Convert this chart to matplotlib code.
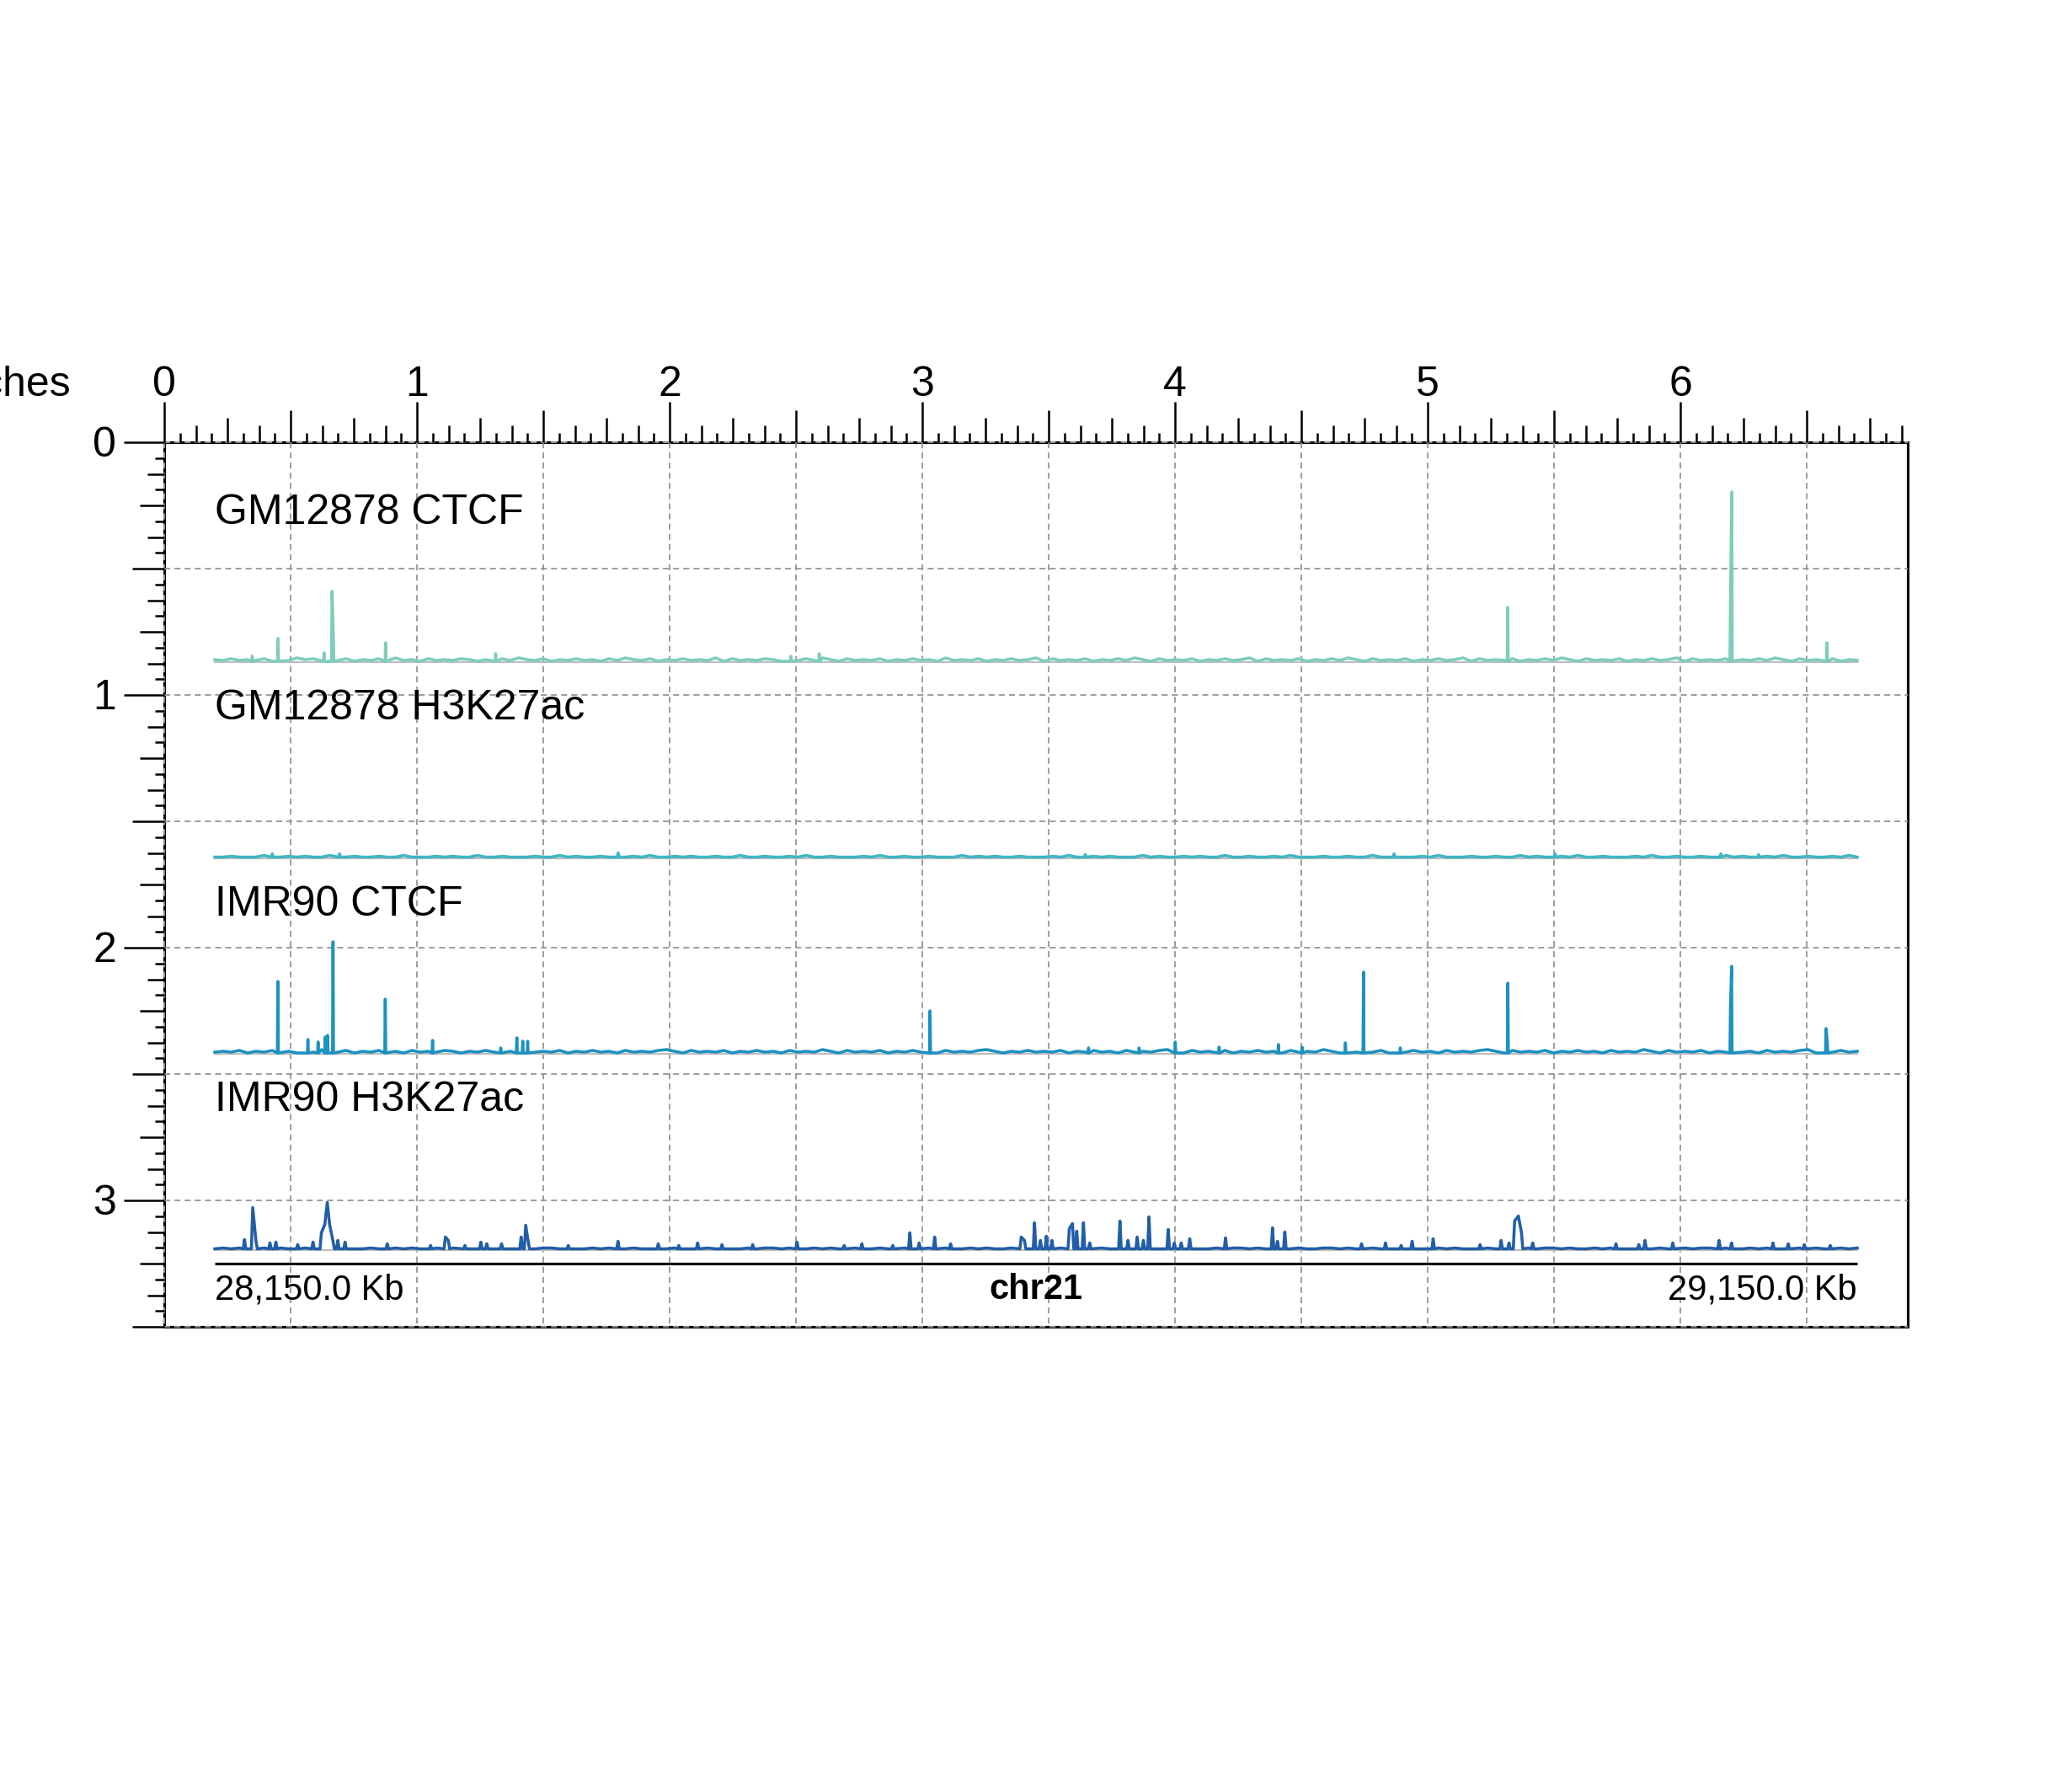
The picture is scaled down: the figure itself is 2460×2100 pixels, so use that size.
import numpy as np
import matplotlib
matplotlib.use("Agg")
import matplotlib.pyplot as plt
from matplotlib.collections import LineCollection
from matplotlib.patches import Rectangle

plt.rcParams['font.family'] = ['Liberation Sans', 'DejaVu Sans']
plt.rcParams['lines.scale_dashes'] = False

# ---------------- data ----------------
region_start = 28150.0   # Kb
region_end = 29150.0     # Kb
chrom = "chr21"
start_label = "28,150.0 Kb"
end_label = "29,150.0 Kb"

track_names = ["GM12878 CTCF", "GM12878 H3K27ac", "IMR90 CTCF", "IMR90 H3K27ac"]
track_colors = ["#7FCDBB", "#41B6C4", "#1D91C0", "#225EA8"]
signal_range = 201.0

# peaks: offsets (Kb from region start) and signal values
gm_ctcf_pos = [22.8, 38.5, 66.5, 71.4, 72.2, 104.0, 171.0, 350.8, 368.0,
               787.2, 922.8, 923.6, 981.6]
gm_ctcf_val = [6, 27, 10, 83, 30, 22, 9, 6, 9, 64, 61, 201, 22]

gm_k27_pos = [35.0, 76.0, 245.6, 530.0, 718.0, 816.0, 917.0, 940.0]
gm_k27_val = [4, 4, 5, 3, 4, 4, 4, 3]

imr_ctcf_pos = [38.4, 56.7, 62.9, 67.2, 68.7, 72.0, 103.8, 132.6, 174.1, 183.9,
                187.5, 190.5, 435.5, 532.0, 562.8, 584.8, 611.5, 647.6, 662.0,
                688.4, 699.4, 721.8, 787.3, 922.8, 923.5, 981.0, 981.8]
imr_ctcf_val = [85, 16, 13, 19, 21, 132, 64, 15, 6, 18,
                14, 14, 50, 6, 6, 13, 7, 10, 7,
                12, 96, 6, 83, 51, 103, 29, 13]

imr_k27_pos = [18.1, 23.1, 25.1, 33.6, 37.2, 50.5, 59.8, 64.9, 67.0, 68.5, 69.9,
               72.0, 74.9, 79.3, 105.0, 131.4, 140.4, 142.2, 152.3, 162.0, 165.6,
               174.6, 186.5, 189.3, 190.8, 215.2, 245.5, 270.0, 282.5, 294.0,
               308.8, 327.5, 354.5, 383.2, 394.0, 412.8, 423.2, 428.9, 438.3,
               448.0, 491.0, 493.0, 499.1, 502.7, 506.3, 509.7, 520.3, 522.2,
               524.8, 528.9, 532.7, 551.1, 556.0, 561.6, 565.4, 568.8, 580.5,
               584.2, 588.4, 593.6, 615.4, 644.0, 647.0, 651.5, 698.2, 712.8,
               722.3, 729.0, 741.8, 770.4, 783.2, 788.0, 791.4, 793.7, 795.6,
               802.4, 853.1, 867.0, 870.8, 887.7, 915.9, 923.5, 948.7, 958.0,
               967.8, 983.6]
imr_k27_val = [11, 49, 9, 7, 8, 5, 8, 19, 29, 55, 29,
               9, 10, 8, 6, 4, 14, 10, 4, 8, 6,
               6, 14, 28, 9, 4, 9, 6, 4, 7,
               5, 5, 8, 4, 6, 4, 19, 7, 14,
               6, 14, 10, 31, 10, 15, 10, 24, 30,
               21, 31, 7, 33, 10, 14, 10, 38, 23,
               7, 7, 12, 13, 25, 9, 20, 6, 7,
               4, 9, 12, 5, 10, 7, 33, 39, 19,
               7, 6, 5, 10, 7, 10, 7, 7, 6,
               5, 4]

# background noise floor, one value per 5 Kb bin
gm_ctcf_noise = ("21312130214231213021" "32412031213202131421" "30213120314213021312"
                 "14031213202131420312" "13021312041213021312" "40312130213142031213"
                 "02131240312130213142" "03121302131240312130" "21314203121302131240"
                 "31213021314203121302" "1")
gm_k27_noise = ("00100020010100200100" "10020001010020010001" "00201001000102001010"
                "01002001001020010001" "02001001000201010010" "00102001010002010010"
                "10020010010200010010" "02001001020001001002" "01001020010001020010"
                "01002010010200100102" "0")
imr_ctcf_noise = ("12130213120314213021" "31203121320213142031" "21302131203121342031"
                  "21302131203121420312" "13021312031213420213" "12130213120312134203"
                  "12130213120312142031" "21302131203121342031" "21302131203121420312"
                  "13021312031213402131" "2")
imr_k27_noise = ("01010010101100101001" "01101001011010010100" "11010010110100101001"
                 "10100101101001010011" "01001011010010100110" "10010110100101001101"
                 "00101101001010011010" "01011010010100110100" "10110100101001101001"
                 "01101001010011010010" "1")

track_peaks_pos = [gm_ctcf_pos, gm_k27_pos, imr_ctcf_pos, imr_k27_pos]
track_peaks_val = [gm_ctcf_val, gm_k27_val, imr_ctcf_val, imr_k27_val]
track_noise = [gm_ctcf_noise, gm_k27_noise, imr_ctcf_noise, imr_k27_noise]
track_halfwidth = [0.3, 0.6, 0.3, 0.8]
track_join = [1.0, 1.5, 1.0, 2.5]


def build_signal(noise, ppos, pval, hw, join, base=1.0):
    peaks = sorted(zip([region_start + p for p in ppos], pval))
    pk_x = np.array([p for p, _ in peaks])
    pts = []
    for i, (p, v) in enumerate(peaks):
        pts.append((p, v + base))
        if i == 0 or p - peaks[i - 1][0] > join:
            pts.append((p - hw, base))
        if i == len(peaks) - 1 or peaks[i + 1][0] - p > join:
            pts.append((p + hw, base))
    nx = np.linspace(region_start, region_end, len(noise))
    for x, c in zip(nx, noise):
        if len(pk_x) == 0 or np.min(np.abs(pk_x - x)) > hw + 1.5:
            pts.append((x, int(c) + base))
    pts.sort()
    xs = np.array([p[0] for p in pts])
    ys = np.array([p[1] for p in pts])
    keep = (xs >= region_start) & (xs <= region_end)
    return xs[keep], ys[keep]


# ---------------- layout (inches) ----------------
FIG_W, FIG_H = 8.2, 7.0
PX0, PY0 = 0.65, 1.75           # page origin inside the figure
PAGE_W, PAGE_H = 6.9, 3.5
TRACK_X, TRACK_W = 0.2, 6.5
TRACK_Y0, TRACK_DY, TRACK_H = 0.2, 0.775, 0.67

fig = plt.figure(figsize=(FIG_W, FIG_H), dpi=300)
fig.patch.set_facecolor('white')
page = fig.add_axes([0, 0, 1, 1])
page.set_xlim(-PX0, FIG_W - PX0)
page.set_ylim(FIG_H - PY0, -PY0)
page.axis('off')

# page border
page.add_patch(Rectangle((0, 0), PAGE_W, PAGE_H, fill=False, ec='black', lw=0.75, zorder=2))

# guides grid
gkw = dict(color='#999999', lw=0.45, dashes=(1.7, 1.2), zorder=3)
for gx in np.arange(0, PAGE_W + 1e-9, 0.5):
    page.plot([gx, gx], [0, PAGE_H], **gkw)
for gy in np.arange(0, PAGE_H + 1e-9, 0.5):
    page.plot([0, PAGE_W], [gy, gy], **gkw)


def tick_len(k):
    if k % 16 == 0:
        return 0.16
    if k % 8 == 0:
        return 0.127
    if k % 4 == 0:
        return 0.097
    if k % 2 == 0:
        return 0.067
    return 0.037


segs = []
for k in range(int(PAGE_W * 16) + 1):
    x = k / 16
    segs.append([(x, 0), (x, -tick_len(k))])
for k in range(int(PAGE_H * 16) + 1):
    y = k / 16
    segs.append([(0, y), (-tick_len(k), y)])
page.add_collection(LineCollection(segs, colors='black', linewidths=0.6, zorder=4,
                                   capstyle='butt'))

for i in range(int(PAGE_W) + 1):
    page.text(i, -0.183, str(i), ha='center', va='baseline', fontsize=12)
page.text(-0.37, -0.183, 'inches', ha='right', va='baseline', fontsize=12)
for i in range(int(PAGE_H) + 1):
    page.text(-0.19, i + 0.058, str(i), ha='right', va='baseline', fontsize=12)

# signal tracks
for i in range(len(track_names)):
    top = TRACK_Y0 + TRACK_DY * i
    ax = fig.add_axes([(PX0 + TRACK_X) / FIG_W,
                       1 - (PY0 + top + TRACK_H) / FIG_H,
                       TRACK_W / FIG_W, TRACK_H / FIG_H])
    ax.set_xlim(region_start, region_end)
    ax.set_ylim(0, signal_range)
    ax.axis('off')
    xs, ys = build_signal(track_noise[i], track_peaks_pos[i], track_peaks_val[i],
                          track_halfwidth[i], track_join[i])
    ax.plot([region_start, region_end], [0, 0], color='#BEBEBE', lw=0.5, zorder=1,
            clip_on=False)
    ax.plot(xs, ys, color=track_colors[i], lw=0.85, zorder=2, clip_on=False)
    page.text(TRACK_X, top + 0.122, track_names[i], ha='left', va='baseline',
              fontsize=12, zorder=6)

# genome label
gy = 3.25
page.plot([TRACK_X, TRACK_X + TRACK_W], [gy, gy], color='black', lw=0.75,
          solid_capstyle='butt', zorder=6)
page.text(TRACK_X, 3.39, start_label, ha='left', va='baseline', fontsize=10, zorder=6)
page.text(TRACK_X + TRACK_W / 2, 3.39, chrom, ha='center', va='baseline', fontsize=10,
          fontweight='bold', zorder=6)
page.text(TRACK_X + TRACK_W, 3.39, end_label, ha='right', va='baseline', fontsize=10,
          zorder=6)

fig.savefig('out.png', dpi=300, facecolor='white')
